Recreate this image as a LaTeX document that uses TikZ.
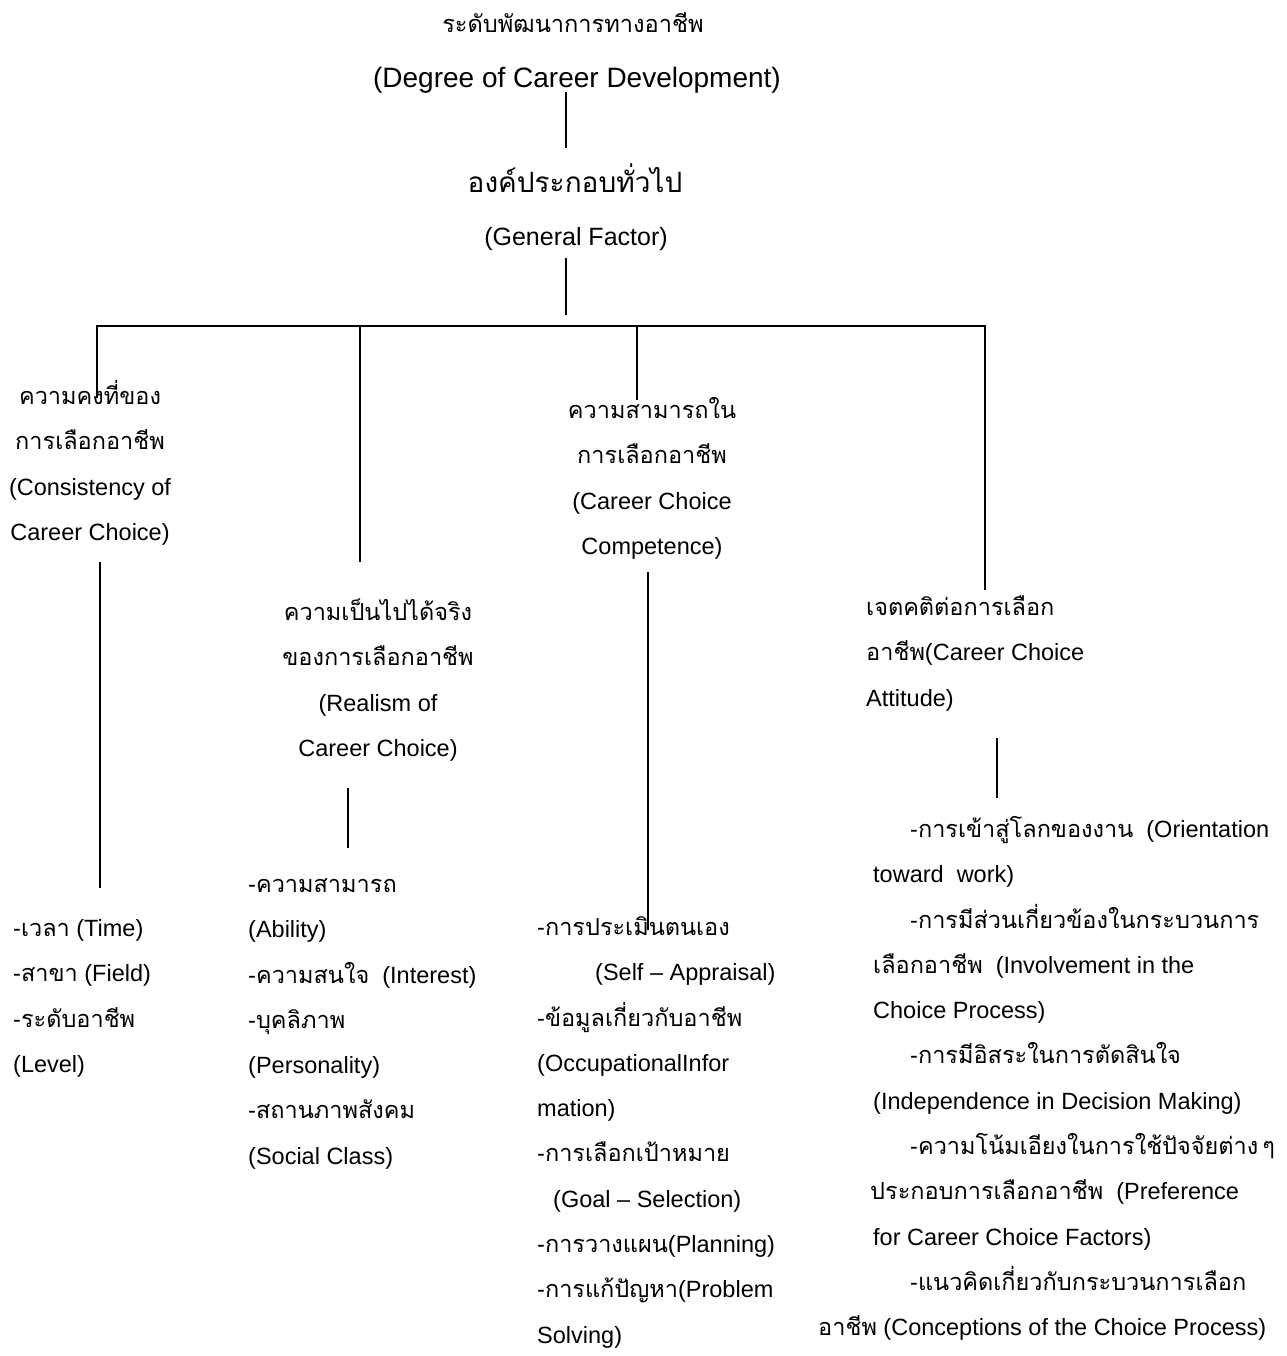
\documentclass[tikz,border=0pt]{standalone}
\usepackage{fontspec}
\setmainfont{Liberation Sans}
\newfontfamily\thaifont[Script=Thai]{Loma}
\newcommand{\tha}[1]{{\thaifont #1}}

\tikzset{
  hd/.style={align=center, anchor=north, inner sep=0pt, font=\fontsize{23.5}{45.3}\selectfont},
  lst/.style={align=left, anchor=north west, inner sep=0pt, font=\fontsize{23.5}{45.3}\selectfont},
  conn/.style={line width=1.5pt},
}

\begin{document}
\begin{tikzpicture}[x=1pt,y=-1pt]
\useasboundingbox (0,0) rectangle (1286,1356);

% top of the tree
\node[anchor=base, inner sep=0pt, font=\fontsize{23.6}{30}\selectfont] (lvl) at (573,33) {\tha{ระดับพัฒนาการทางอาชีพ}};
\node[anchor=base, inner sep=0pt, font=\fontsize{28}{30}\selectfont] (lvlen) at (577,88) {(Degree of Career Development)};
\node[anchor=base, inner sep=0pt, font=\fontsize{28}{30}\selectfont] (gen) at (575,193) {\tha{องค์ประกอบทั่วไป}};
\node[anchor=base, inner sep=0pt, font=\fontsize{25}{30}\selectfont] (genen) at (576,246) {(General Factor)};

% four factors
\node[hd] (cons) at (90,372.5) {\strut\tha{ความคงที่ของ}\\\tha{การเลือกอาชีพ}\\(Consistency of\\Career Choice)};
\node[hd] (real) at (378,588.5) {\strut\tha{ความเป็นไปได้จริง}\\\tha{ของการเลือกอาชีพ}\\(Realism of\\Career Choice)};
\node[hd] (comp) at (652,386.5) {\strut\tha{ความสามารถใน}\\\tha{การเลือกอาชีพ}\\(Career Choice\\Competence)};
\node[lst] (att) at (866,583.5) {\strut\tha{เจตคติต่อการเลือก}\\\tha{อาชีพ}(Career Choice\\Attitude)};

% sub factors
\node[lst] (consl) at (13,904.5) {\strut-\tha{เวลา} (Time)\\-\tha{สาขา} (Field)\\-\tha{ระดับอาชีพ}\\(Level)};
\node[lst] (reall) at (248,860.5) {\strut-\tha{ความสามารถ}\\(Ability)\\-\tha{ความสนใจ}\ \ (Interest)\\-\tha{บุคลิภาพ}\\(Personality)\\-\tha{สถานภาพสังคม}\\(Social Class)};
\node[lst] (compl) at (537,903.5) {\strut-\tha{การประเมินตนเอง}\\\hspace*{58pt}(Self -- Appraisal)\\-\tha{ข้อมูลเกี่ยวกับอาชีพ}\\(OccupationalInfor\\mation)\\-\tha{การเลือกเป้าหมาย}\\\hspace*{16pt}(Goal -- Selection)\\-\tha{การวางแผน}(Planning)\\-\tha{การแก้ปัญหา}(Problem\\Solving)};
\node[lst] (attl) at (818,805.5) {\strut\hspace*{92pt}-\tha{การเข้าสู่โลกของงาน}\ \ (Orientation\\\hspace*{55pt}toward\ \ work)\\\hspace*{92pt}-\tha{การมีส่วนเกี่ยวข้องในกระบวนการ}\\\hspace*{55pt}\tha{เลือกอาชีพ}\ \ (Involvement in the\\\hspace*{55pt}Choice Process)\\\hspace*{92pt}-\tha{การมีอิสระในการตัดสินใจ}\\\hspace*{55pt}(Independence in Decision Making)\\\hspace*{92pt}-\tha{ความโน้มเอียงในการใช้ปัจจัยต่าง\,ๆ}\\\hspace*{52pt}\tha{ประกอบการเลือกอาชีพ}\ \ (Preference\\\hspace*{55pt}for Career Choice Factors)\\\hspace*{92pt}-\tha{แนวคิดเกี่ยวกับกระบวนการเลือก}\\\tha{อาชีพ} (Conceptions of the Choice Process)};

% connector ends
\coordinate (s1a) at (566,92);
\coordinate (s1b) at (566,148);
\coordinate (s2a) at (566,258);
\coordinate (s2b) at (566,315);
\coordinate (busl) at (97,326);
\coordinate (busr) at (985,326);
\coordinate (d1) at (97,398);
\coordinate (d2a) at (360,326);
\coordinate (d2) at (360,562);
\coordinate (d3a) at (637,326);
\coordinate (d3) at (637,400);
\coordinate (d4) at (985,590);
\coordinate (e1a) at (100,562);
\coordinate (e1) at (100,888);
\coordinate (e2a) at (348,788);
\coordinate (e2) at (348,848);
\coordinate (e3a) at (648,572);
\coordinate (e3) at (648,930);
\coordinate (e4a) at (997,738);
\coordinate (e4) at (997,798);

\draw[conn] (s1a) -- (s1b);
\draw[conn] (s2a) -- (s2b);
\draw[conn] (d1) -- (busl) -- (busr) -- (d4);
\draw[conn] (d2a) -- (d2);
\draw[conn] (d3a) -- (d3);
\draw[conn] (e1a) -- (e1);
\draw[conn] (e2a) -- (e2);
\draw[conn] (e3a) -- (e3);
\draw[conn] (e4a) -- (e4);
\end{tikzpicture}
\end{document}
